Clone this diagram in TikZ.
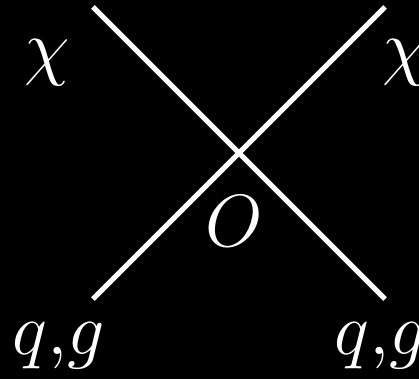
\RequirePackage{fix-cm}
\documentclass[tikz,border=0pt]{standalone}
\begin{document}
\begin{tikzpicture}[x=1pt,y=-1pt,
  leg/.style={draw=white,line width=5pt},
  lbl/.style={text=white,inner sep=0pt,anchor=base,font=\fontsize{74}{80}\selectfont}]
\fill[black] (0,0) rectangle (419,379);
\useasboundingbox (0,0) rectangle (419,379);
\coordinate (tl) at (93,7);
\coordinate (br) at (385,299);
\coordinate (tr) at (385,7);
\coordinate (bl) at (93,299);
\draw[leg] (tl) -- (br);
\draw[leg] (tr) -- (bl);
\node[lbl] (chiL) at (47,72) {$\chi$};
\node[lbl] (chiR) at (405,72) {$\chi$};
\node[lbl] (O) at (234,246) {$O$};
\node[lbl] (qgL) at (59,354) {$q{,}g$};
\node[lbl] (qgR) at (381,354) {$q{,}g$};
\end{tikzpicture}
\end{document}
